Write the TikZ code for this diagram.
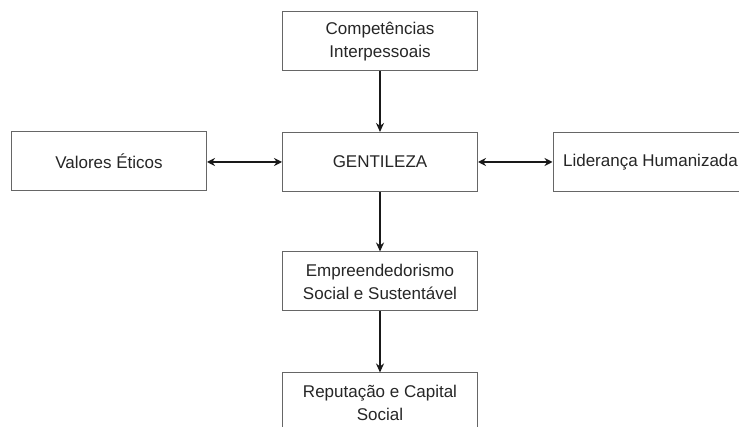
\documentclass[tikz,border=0pt]{standalone}
\usepackage{fontspec}
\setmainfont{Liberation Sans}
\usetikzlibrary{arrows.meta}
\begin{document}
\begin{tikzpicture}[x=1pt,y=-1pt,
  box/.style={draw=black!60, line width=1pt, minimum width=195pt, minimum height=59pt, inner sep=0pt, align=center, font=\fontsize{17}{23}\selectfont, text=black!85},
  conn/.style={line width=1.8pt, draw=black!90, -{Stealth[length=9pt,width=8pt]}},
  bconn/.style={line width=1.8pt, draw=black!90, {Stealth[length=8pt,width=8pt]}-{Stealth[length=8pt,width=8pt]}}]
\useasboundingbox (0,0) rectangle (739,427);
\fill[white] (0,0) rectangle (739,427);
\clip (0,0) rectangle (739,427);
\node[box] (comp) at (380,41.5) {Competências\\Interpessoais};
\node[box] (gent) at (380,162) {GENTILEZA};
\node[box] (val) at (109,161) {Valores Éticos};
\node[box] (lid) at (650.5,162) {Liderança Humanizada};
\node[box] (emp) at (380,281.5) {Empreendedorismo\\Social e Sustentável};
\node[box] (rep) at (380,402.5) {Reputação e Capital\\Social};
\draw[conn] (comp.south) -- (gent.north);
\draw[conn] (gent.south) -- (emp.north);
\draw[conn] (emp.south) -- (rep.north);
\draw[bconn] (gent.west -| val.east) -- (gent.west);
\draw[bconn] (gent.east) -- (lid.west);
\end{tikzpicture}
\end{document}
